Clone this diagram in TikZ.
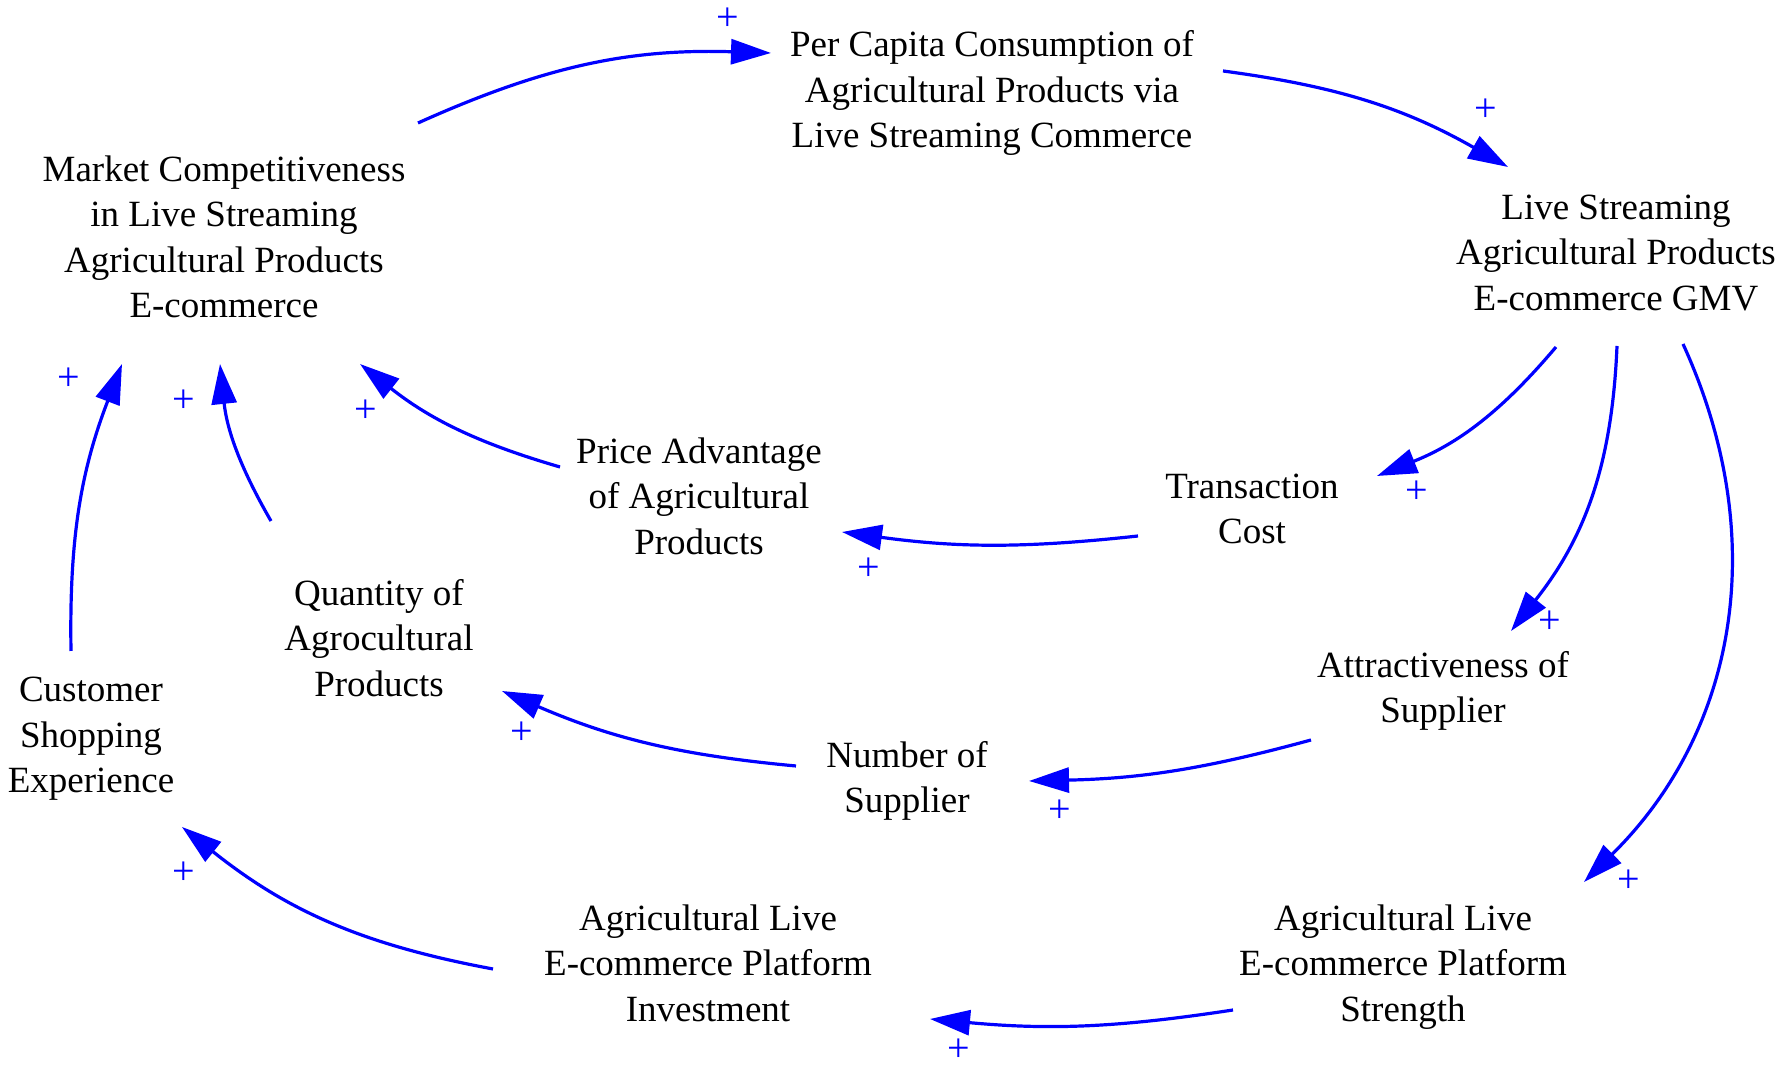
\documentclass[tikz,border=0pt]{standalone}
\usepackage{fontspec}
\setmainfont{Liberation Serif}
\usetikzlibrary{arrows.meta}
\begin{document}
\begin{tikzpicture}[x=0.5pt,y=0.5pt,
  lbl/.style={align=center, font=\fontsize{18.5}{22.75}\selectfont, inner sep=0pt},
  arr/.style={draw=blue, line width=1.6pt, -{Triangle[length=20pt,width=12.5pt]}},
  pl/.style={text=blue, font=\fontsize{20}{20}\selectfont, inner sep=0pt}]
\useasboundingbox (0,0) rectangle (1784,1069);
% variables
\node[lbl] (pc)  at (992,976) {Per Capita Consumption of\\Agricultural Products via\\Live Streaming Commerce};
\node[lbl] (mc)  at (224,832) {Market Competitiveness\\in Live Streaming\\Agricultural Products\\E-commerce};
\node[lbl] (gmv) at (1616,816) {Live Streaming\\Agricultural Products\\E-commerce GMV};
\node[lbl] (tc)  at (1252,560) {Transaction\\Cost};
\node[lbl] (pa)  at (699,573) {Price Advantage\\of Agricultural\\Products};
\node[lbl] (qa)  at (379,431) {Quantity of\\Agrocultural\\Products};
\node[lbl] (cs)  at (91,330) {Customer\\Shopping\\Experience};
\node[lbl] (att) at (1443,378) {Attractiveness of\\Supplier};
\node[lbl] (ns)  at (907,288) {Number of\\Supplier};
\node[lbl] (pi)  at (708,106) {Agricultural Live\\E-commerce Platform\\Investment};
\node[lbl] (ps)  at (1403,102) {Agricultural Live\\E-commerce Platform\\Strength};
% links
\draw[arr] ([shift={(194,114)}]mc.center) to[bend left=13] ([shift={(-221,40)}]pc.center);
\draw[arr] ([shift={(231,22)}]pc.center) to[bend left=11] ([shift={(-108,86)}]gmv.center);
\draw[arr] ([shift={(-60,-94)}]gmv.center) to[bend left=14] ([shift={(125,33)}]tc.center);
\draw[arr] ([shift={(1,-93)}]gmv.center) to[bend left=18] ([shift={(68,60)}]att.center);
\draw[arr] ([shift={(67,-91)}]gmv.center) to[bend left=35] ([shift={(181,85)}]ps.center);
\draw[arr] ([shift={(-114,-27)}]tc.center) to[bend left=7] ([shift={(143,-36)}]pa.center);
\draw[arr] ([shift={(-139,29)}]pa.center) to[bend left=11] ([shift={(136,-127)}]mc.center);
\draw[arr] ([shift={(-132,-49)}]att.center) to[bend left=7] ([shift={(122,0)}]ns.center);
\draw[arr] ([shift={(-111,15)}]ns.center) to[bend left=9] ([shift={(123,-53)}]qa.center);
\draw[arr] ([shift={(-108,117)}]qa.center) to[bend left=12] ([shift={(-4,-127)}]mc.center);
\draw[arr] ([shift={(-20,88)}]cs.center) to[bend left=11] ([shift={(-102,-127)}]mc.center);
\draw[arr] ([shift={(-170,-43)}]ps.center) to[bend left=7] ([shift={(222,-56)}]pi.center);
\draw[arr] ([shift={(-215,-6)}]pi.center) to[bend left=14] ([shift={(91,-88)}]cs.center);
% polarities
\node[pl] (p1)  at (728,1050) {+};
\node[pl] (p2)  at (1486,959) {+};
\node[pl] (p3)  at (1417,577) {+};
\node[pl] (p4)  at (1550,447) {+};
\node[pl] (p5)  at (1629,188) {+};
\node[pl] (p6)  at (869,500) {+};
\node[pl] (p7)  at (366,658) {+};
\node[pl] (p8)  at (1060,258) {+};
\node[pl] (p9)  at (522,336) {+};
\node[pl] (p10) at (184,668) {+};
\node[pl] (p11) at (69,690) {+};
\node[pl] (p12) at (959,19) {+};
\node[pl] (p13) at (184,196) {+};
\end{tikzpicture}
\end{document}
